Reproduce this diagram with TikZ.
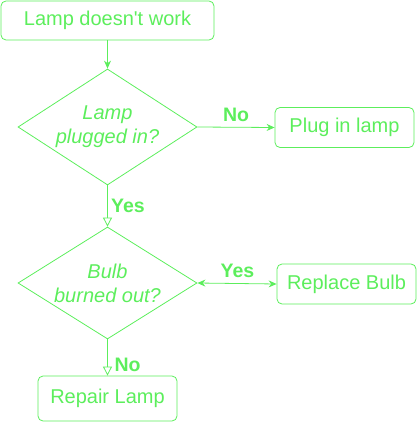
\documentclass[tikz,border=0pt]{standalone}
\usepackage{fontspec}
\setmainfont{Liberation Sans}
\usetikzlibrary{shapes.geometric,arrows.meta}
\definecolor{lg}{HTML}{5CEE5C}
\begin{document}
\begin{tikzpicture}[x=1pt,y=-1pt,
  every node/.style={text=lg,font=\fontsize{20}{24}\selectfont},
  proc/.style={draw=lg,line width=0.8pt,rounded corners=5pt,minimum height=40pt,minimum width=139pt,inner sep=0pt},
  decision/.style={draw=lg,line width=0.8pt,shape=diamond,aspect=1.55,minimum width=179pt,minimum height=116pt,inner sep=0pt,align=center,font=\fontsize{20}{24}\selectfont\itshape},
  lbl/.style={font=\fontsize{19.5}{24}\selectfont\bfseries,inner sep=0pt},
  conn/.style={draw=lg,line width=0.8pt},
  fillhead/.style={-{Stealth[length=8pt,width=7pt]}},
  openhead/.style={-{Triangle[open,length=9pt,width=9pt]}}]
\useasboundingbox (0,0) rectangle (417,422);
\node[proc,minimum width=213pt,minimum height=39pt] (start) at (107.5,20.5) {Lamp doesn\textquotesingle t work};
\node[decision] (d1) at (107.5,127) {Lamp\\plugged in?};
\node[proc] (plug) at (344.5,127.5) {Plug in lamp};
\node[decision,minimum height=112pt] (d2) at (107.5,283) {Bulb\\burned out?};
\node[proc] (replace) at (346.5,284) {Replace Bulb};
\node[proc,minimum height=45pt] (repair) at (107.5,398.5) {Repair Lamp};
\draw[conn,fillhead] (start) -- (d1);
\draw[conn,fillhead] (d1.east) -- (plug.west);
\node[lbl] (no1) at (236,115) {No};
\draw[conn,openhead] (d1.south) -- (d2.north);
\node[lbl] (yes1) at (128,206) {Yes};
\draw[conn,{Stealth[length=8pt,width=7pt]}-{Stealth[length=8pt,width=7pt]}] (d2.east) -- (replace.west);
\node[lbl] (yes2) at (237.5,271) {Yes};
\draw[conn,openhead] (d2.south) -- (repair.north);
\node[lbl] (no2) at (127.5,364.5) {No};
\end{tikzpicture}
\end{document}
